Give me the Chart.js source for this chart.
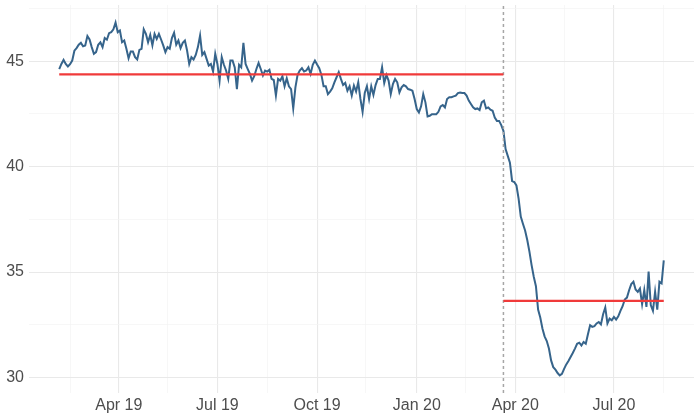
<!DOCTYPE html>
<html>
<head>
<meta charset="utf-8">
<script src="https://cdn.jsdelivr.net/npm/chart.js@4.4.0/dist/chart.umd.min.js"></script>
<style>
  html, body { margin: 0; padding: 0; background: #fff; }
  #chart { display: block; }
</style>
</head>
<body>
<canvas id="chart" width="700" height="420"></canvas>
<script>
// series: one reading every 2 days from startDate
const startDate = '2019-02-05';
const stepDays = 2;
const values = [
  44.63, 44.87, 45.06, 44.87, 44.75, 44.86, 45.03, 45.5, 45.62, 45.78,
  45.87, 45.71, 45.75, 46.19, 46.03, 45.67, 45.35, 45.43, 45.78, 45.9,
  45.67, 46.1, 46.02, 46.33, 46.38, 46.51, 46.83, 46.38, 46.46, 45.9,
  45.98, 45.59, 45.14, 45.46, 45.46, 45.19, 45.08, 45.54, 45.59, 46.51,
  46.3, 45.9, 46.25, 45.75, 46.3, 46.06, 46.3, 46.03, 45.75, 45.43,
  45.67, 45.59, 46.1, 46.35, 45.78, 45.98, 45.62, 45.87, 45.98, 45.51,
  44.87, 45.19, 45.08, 45.3, 45.67, 46.22, 45.3, 45.43, 45.11, 44.79,
  44.87, 44.51, 45.35, 44.87, 44.08, 45.19, 44.83, 44.56, 44.16, 45.03,
  45.03, 44.71, 43.68, 44.83, 44.71, 45.87, 44.87, 44.63, 44.4, 44.08,
  44.29, 44.63, 44.92, 44.63, 44.32, 44.56, 44.51, 44.59, 44.16, 44.11,
  43.37, 44.16, 44.08, 44.29, 43.81, 44.19, 43.81, 43.68, 42.76, 43.76,
  44.35, 44.56, 44.67, 44.51, 44.56, 44.71, 44.4, 44.83, 45.03, 44.84,
  44.67, 44.35, 43.81, 43.81, 43.44, 43.56, 43.71, 44.0, 44.24, 44.48,
  44.16, 43.87, 43.97, 43.6, 43.81,
  43.37, 43.84, 43.56, 44.0, 43.21,
  42.6, 43.49, 43.81, 43.21, 43.81, 43.4, 43.87, 44.16, 44.16, 44.71,
  43.97, 44.35, 44.08, 43.44, 43.92, 44.16, 44.0, 43.52, 43.76, 43.87,
  43.81, 43.68, 43.65, 43.6, 43.21, 42.73, 42.57, 42.86, 43.44, 43.05,
  42.38, 42.41, 42.49, 42.49, 42.49, 42.6, 42.86, 42.92, 42.81, 43.21,
  43.29, 43.29, 43.33, 43.37, 43.49, 43.52, 43.49, 43.49, 43.37, 43.13,
  42.97, 42.81, 42.73, 42.76, 42.68, 43.05, 43.13, 42.76, 42.81, 42.7,
  42.65, 42.33, 42.17, 42.17, 41.97, 41.7, 40.83, 40.51,
  40.19, 39.32,
  39.27, 39.11, 38.48, 37.63, 37.29, 36.97, 36.52, 35.97, 35.33, 34.78,
  34.33, 33.22, 32.84, 32.32, 31.95, 31.73, 31.37, 30.81, 30.49, 30.37,
  30.21, 30.1, 30.17, 30.41, 30.62, 30.78, 30.97, 31.16, 31.37, 31.6,
  31.65, 31.52, 31.68, 31.6, 32.05, 32.48, 32.4, 32.43, 32.56, 32.63,
  32.52, 33.0, 33.32, 32.56, 32.79, 32.71, 32.87, 32.75, 32.9, 33.16,
  33.38, 33.7, 33.79, 34.14, 34.43, 34.54, 34.17, 34.06, 34.22, 33.48,
  34.14, 33.35, 35.02, 33.43, 33.16, 34.06, 33.22, 34.54, 34.46, 35.55
];

// mean level before / after the break
const breakDate = '2020-03-21';
const levelBefore = 44.38;
const levelAfter = 33.63;

const yTicks = [30, 32.5, 35, 37.5, 40, 42.5, 45, 47.5];
const yLabelTicks = [30, 35, 40, 45];
const xTickDates = ['2019-04-01', '2019-07-01', '2019-10-01', '2020-01-01', '2020-04-01', '2020-07-01'];
const xTickLabels = ['Apr 19', 'Jul 19', 'Oct 19', 'Jan 20', 'Apr 20', 'Jul 20'];
const xMinorDates = ['2019-02-15', '2019-05-16', '2019-08-16', '2019-11-15', '2020-02-15', '2020-05-16', '2020-08-16'];

// days since 2019-01-01
const base = Date.UTC(2019, 0, 1);
function dayOf(iso) {
  const p = iso.split('-').map(Number);
  return (Date.UTC(p[0], p[1] - 1, p[2]) - base) / 86400000;
}

const d0 = dayOf(startDate);
const series = values.map((v, i) => ({ x: d0 + i * stepDays, y: v }));
const firstDay = series[0].x;
const lastDay = series[series.length - 1].x;
const breakDay = dayOf(breakDate);

// ggplot-like 5% expansion
const xPad = (lastDay - firstDay) * 0.05;
const yLo = Math.min(...values), yHi = Math.max(...values);
const yPad = (yHi - yLo) * 0.05;
const xMin = firstDay - xPad, xMax = lastDay + xPad;
const yMin = yLo - yPad, yMax = yHi + yPad;

const majorDays = xTickDates.map(dayOf);
const minorDays = xMinorDates.map(dayOf);
const allXTicks = majorDays.concat(minorDays).sort((a, b) => a - b);

const textColor = '#4d4d4d';
const font = { family: "'Liberation Sans', Arial, sans-serif", size: 16 };

// drop the half-label padding chart.js reserves at the axis ends
function noEndPadding(s) {
  s.paddingTop = 0; s.paddingBottom = 0;
  s.paddingLeft = 0; s.paddingRight = 0;
}

new Chart(document.getElementById('chart'), {
  type: 'line',
  data: {
    datasets: [
      {
        data: [{ x: firstDay, y: levelBefore }, { x: breakDay, y: levelBefore }],
        borderColor: '#f03a3a', borderWidth: 2.2, pointRadius: 0, order: 1
      },
      {
        data: [{ x: breakDay, y: levelAfter }, { x: lastDay, y: levelAfter }],
        borderColor: '#f03a3a', borderWidth: 2.2, pointRadius: 0, order: 1
      },
      {
        data: [{ x: breakDay, y: yMin }, { x: breakDay, y: yMax }],
        borderColor: '#a6a6a6', borderWidth: 1.5, borderDash: [3, 3], pointRadius: 0, order: 2
      },
      {
        data: series,
        borderColor: '#36648b', borderWidth: 2, pointRadius: 0, tension: 0, order: 3
      }
    ]
  },
  options: {
    responsive: false,
    animation: false,
    events: [],
    layout: { padding: { top: 5, right: 6, left: 0, bottom: 0 } },
    plugins: { legend: { display: false }, tooltip: { enabled: false } },
    scales: {
      x: {
        type: 'linear',
        min: xMin,
        max: xMax,
        afterBuildTicks: s => { s.ticks = allXTicks.map(v => ({ value: v })); },
        afterFit: s => { s.height = 27; noEndPadding(s); },
        border: { display: false },
        grid: {
          drawTicks: false,
          color: ctx => majorDays.includes(ctx.tick.value) ? '#e9e9e9' : '#f3f3f3',
          lineWidth: ctx => majorDays.includes(ctx.tick.value) ? 1.1 : 0.7
        },
        ticks: {
          autoSkip: false, maxRotation: 0, padding: 3, color: textColor, font,
          callback: v => {
            const k = majorDays.indexOf(v);
            return k >= 0 ? xTickLabels[k] : '';
          }
        }
      },
      y: {
        min: yMin,
        max: yMax,
        afterBuildTicks: s => { s.ticks = yTicks.map(v => ({ value: v })); },
        afterFit: s => { s.width = 29; noEndPadding(s); },
        border: { display: false },
        grid: {
          drawTicks: false,
          color: ctx => yLabelTicks.includes(ctx.tick.value) ? '#e9e9e9' : '#f3f3f3',
          lineWidth: ctx => yLabelTicks.includes(ctx.tick.value) ? 1.1 : 0.7
        },
        ticks: {
          padding: 5, color: textColor, font,
          callback: v => yLabelTicks.includes(v) ? String(v) : ''
        }
      }
    }
  }
});
</script>
</body>
</html>
